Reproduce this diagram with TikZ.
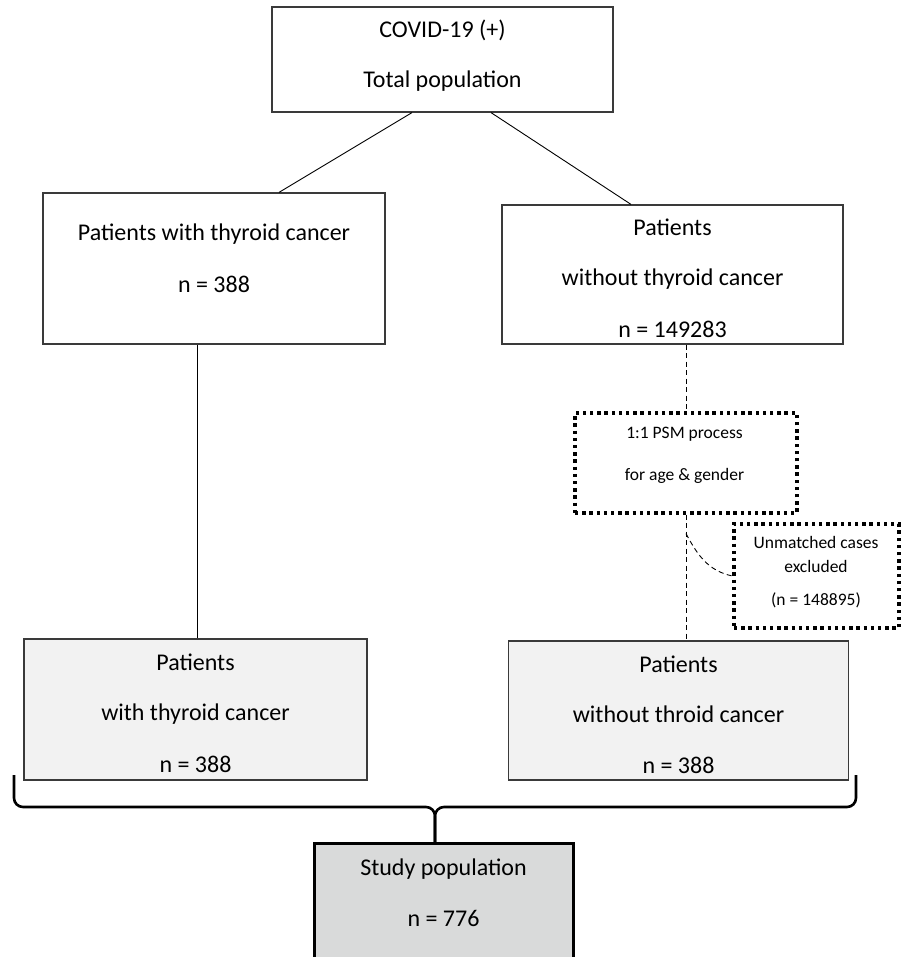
\documentclass[tikz,border=0pt]{standalone}
\usepackage{fontspec}
\setmainfont{Carlito}
\usetikzlibrary{positioning}
\definecolor{colorbox}{HTML}{F2F2F2}
\definecolor{colorstudy}{HTML}{D9DADA}
\definecolor{colorline}{HTML}{3A3A3A}
\tikzset{
  boxw/.style={draw=colorline, line width=1.2pt, fill=white, inner sep=0pt},
  boxg/.style={draw=colorline, line width=1.4pt, fill=colorbox, inner sep=0pt},
  boxs/.style={draw=black, line width=3pt, fill=colorstudy, inner sep=0pt},
  boxdot/.style={draw=black, line width=3.2pt, dash pattern=on 3.4pt off 3.8pt, inner sep=0pt},
  txtbig/.style={align=center, inner sep=0pt, anchor=base, font=\fontsize{24}{50}\selectfont},
  txtsmall/.style={align=center, inner sep=0pt, anchor=base, font=\fontsize{17.5}{24}\selectfont},
  edgeln/.style={black, line width=0.9pt},
  edgeds/.style={black, line width=0.9pt, dash pattern=on 5pt off 3.5pt},
  edgebr/.style={black, line width=2.6pt, rounded corners=9pt}
}

\begin{document}
\begin{tikzpicture}[x=1pt, y=-1pt]
\useasboundingbox (0,0) rectangle (903,957);
\clip (0,0) rectangle (903,957);
% boxes
\node[boxw, minimum width=341pt, minimum height=105pt] (tot) at (442.5,59.5) {};
\node[boxw, minimum width=342pt, minimum height=151pt] (tc) at (214,268.5) {};
\node[boxw, minimum width=341pt, minimum height=139pt] (ntc) at (672.5,274.5) {};
\node[boxdot, minimum width=222pt, minimum height=100pt] (psm) at (686,463) {};
\node[boxdot, minimum width=165pt, minimum height=104pt] (unm) at (816.5,576) {};
\node[boxg, minimum width=343pt, minimum height=141pt] (tc2) at (195.5,709.5) {};
\node[boxg, minimum width=340pt, minimum height=139pt] (ntc2) at (678.5,710.5) {};
\node[boxs, minimum width=259pt, minimum height=140pt] (study) at (443.5,913) {};
% texts (placed at the baseline of their last line)
\node[txtbig] (tot-t) at (442.5,87.5) {COVID-19 (+)\\Total population};
\node[txtbig] (tc-t) at (214,292.5) {Patients with thyroid cancer\\[2pt]n = 388};
\node[txtbig] (ntc-t) at (672.5,337.5) {Patients\\without thyroid cancer\\[2pt]n = 149283};
\node[txtsmall, font=\fontsize{17.5}{42}\selectfont] (psm-t) at (684.5,480.5) {1:1 PSM process\\for age \& gender};
\node[txtsmall] (unm-t) at (816,605.5) {Unmatched cases\\excluded\\[9pt](n = 148895)};
\node[txtbig] (tc2-t) at (195.5,772.5) {Patients\\with thyroid cancer\\[2pt]n = 388};
\node[txtbig] (ntc2-t) at (678.5,773.5) {Patients\\without throid cancer\\[1pt]n = 388};
\node[txtbig] (study-t) at (443.5,926.5) {Study population\\[1pt]n = 776};
% connectors
\draw[edgeln] ([xshift=-30.5pt]tot.south) -- ([xshift=65pt]tc.north);
\draw[edgeln] ([xshift=48.5pt]tot.south) -- ([xshift=-41.5pt]ntc.north);
\draw[edgeln] ([xshift=2pt]tc2.north |- tc.south) -- ([xshift=2pt]tc2.north);
\draw[edgeds] (psm.north |- ntc.south) -- (psm.north);
\draw[edgeds] (psm.south) -- (psm.south |- ntc2.north);
\coordinate (cut) at ([yshift=-19pt]psm.south);
\draw[edgeds] (cut) to[out=-62, in=168] (unm.west);
% brace
\coordinate (bl) at (14,775);
\coordinate (br) at (856,775);
\coordinate (bm) at (435,807);
\coordinate (bt) at (435,842);
\draw[edgebr] (bl) |- (bm) -- (bt);
\draw[edgebr] (br) |- (bm) -- (bt);
\end{tikzpicture}
\end{document}
